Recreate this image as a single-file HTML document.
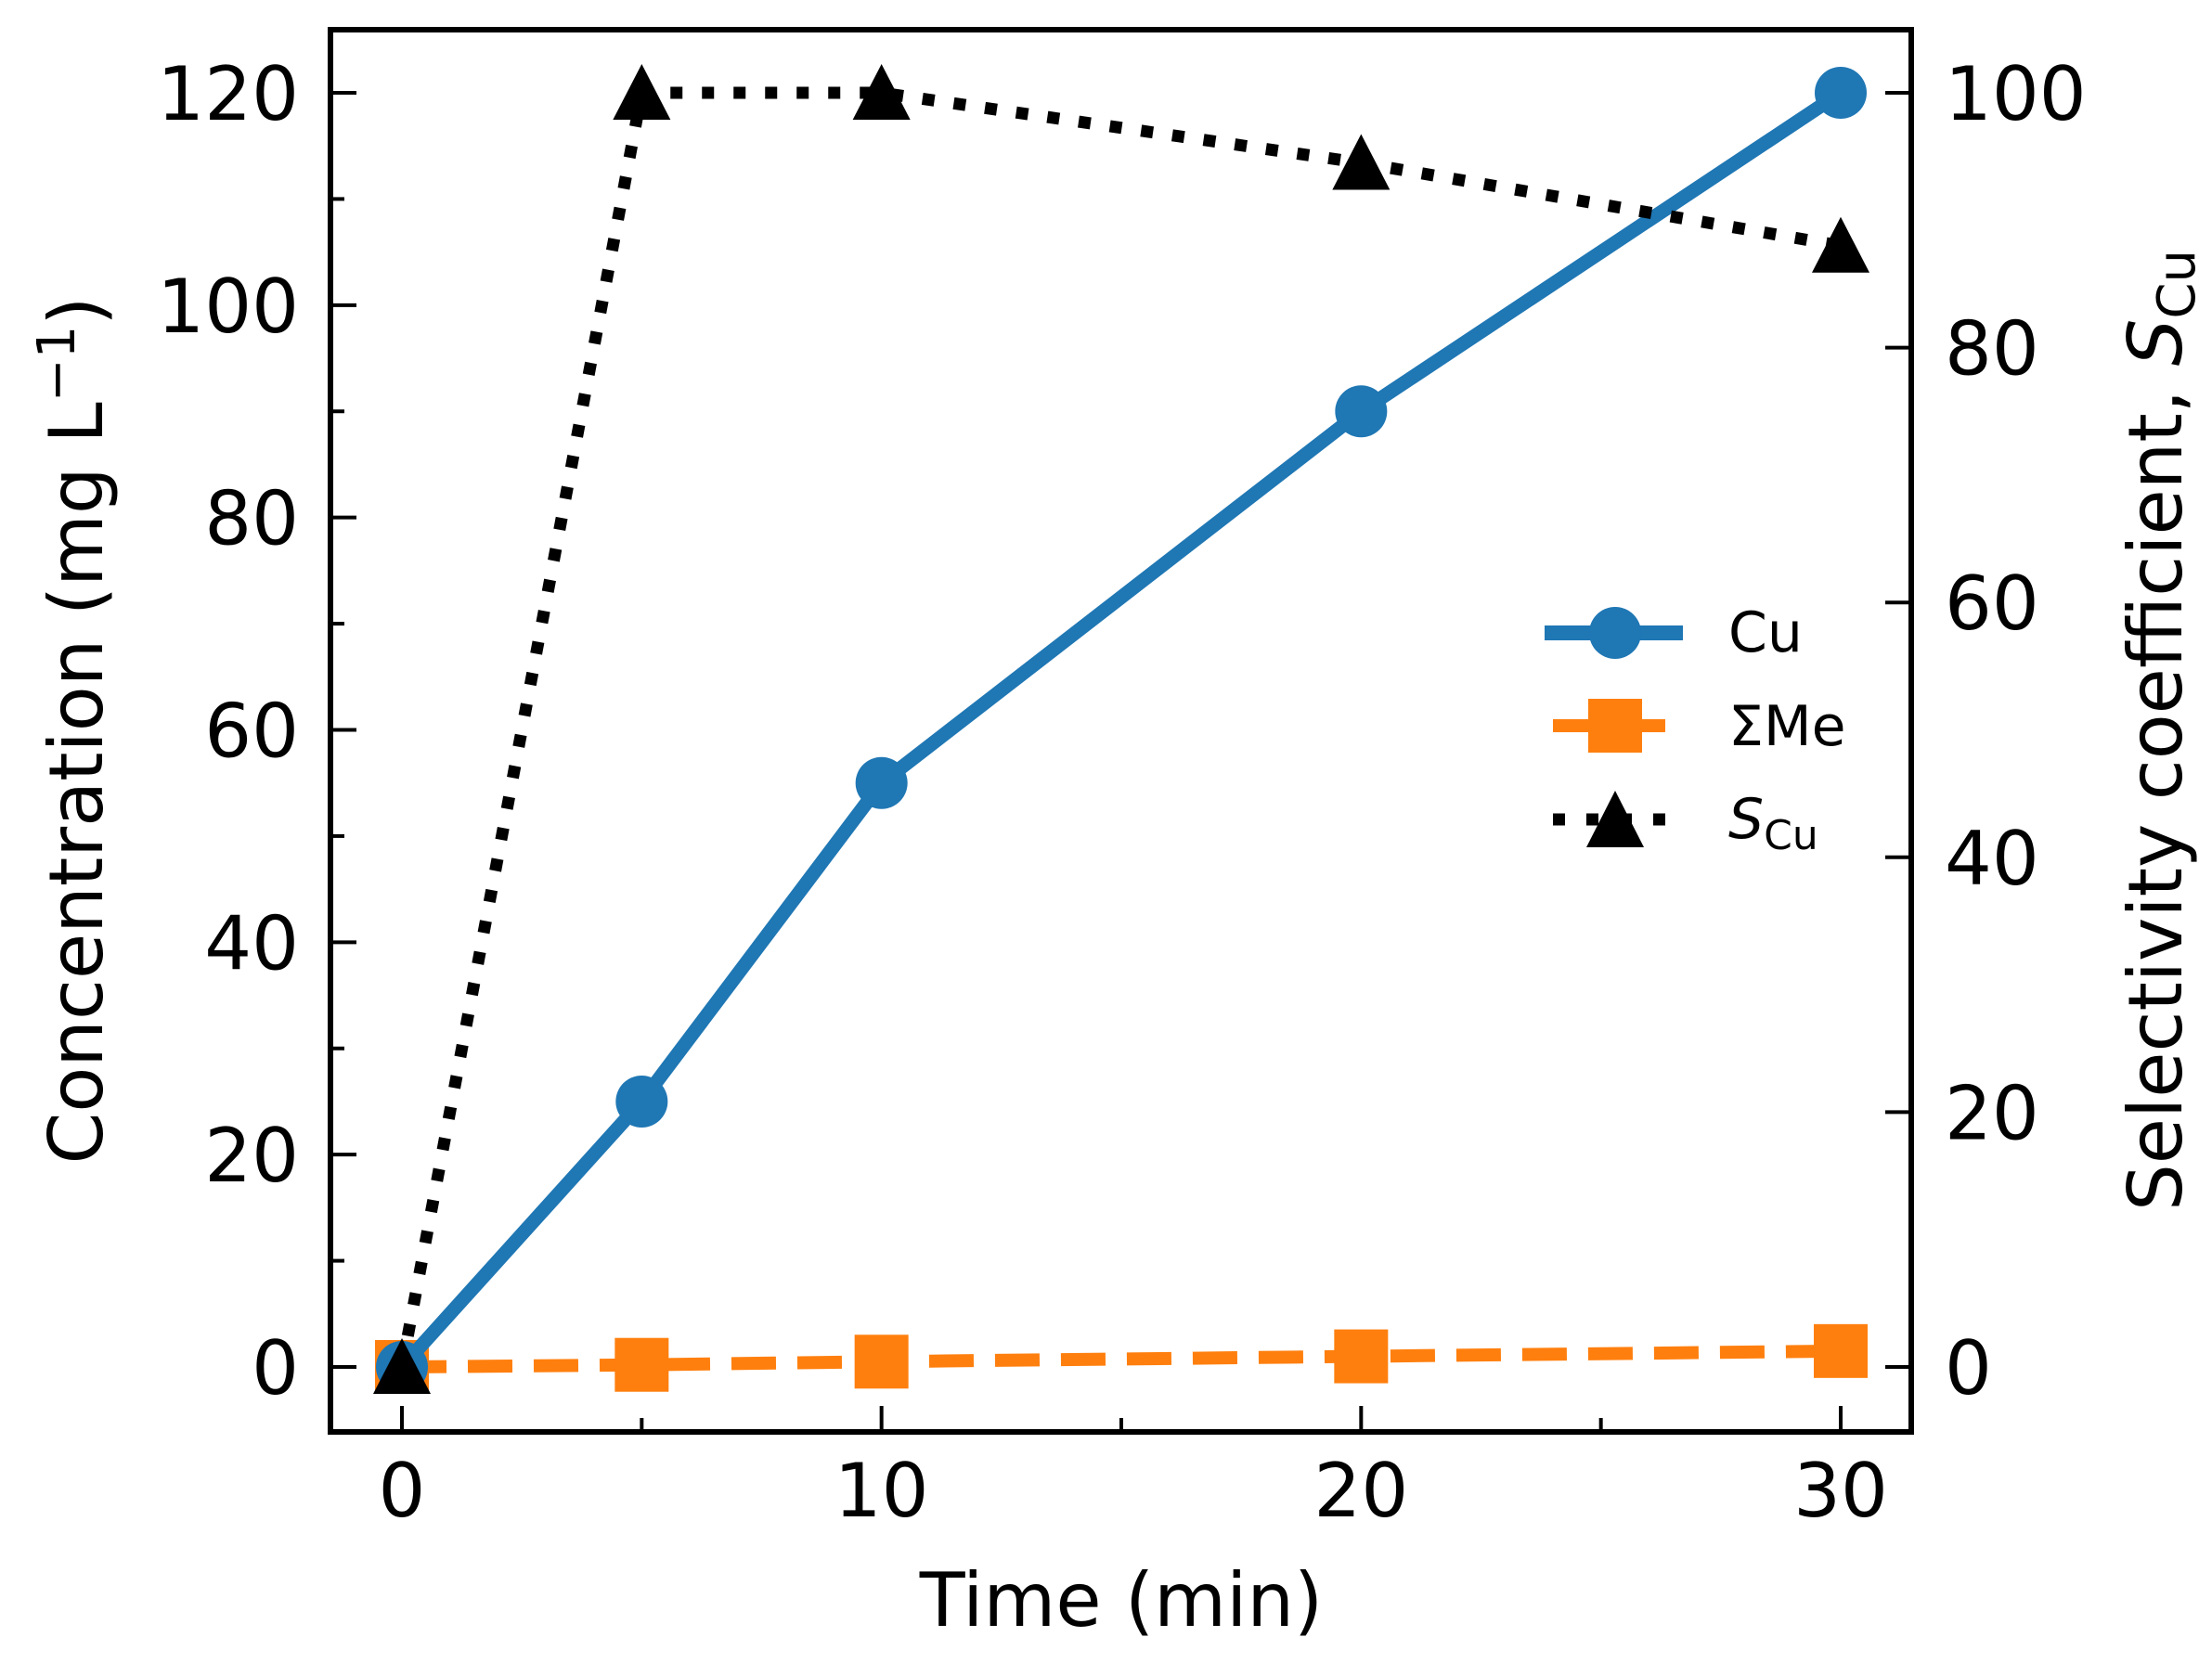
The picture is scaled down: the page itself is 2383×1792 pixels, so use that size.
<!DOCTYPE html>
<html><head><meta charset="utf-8"><style>
html,body{margin:0;padding:0;background:#fff;}
svg{display:block;font-family:"DejaVu Sans","Liberation Sans",sans-serif;}
</style></head><body>
<svg id="chart" width="2383" height="1792" viewBox="0 0 2383 1792" xmlns="http://www.w3.org/2000/svg">
<g id="ticks"></g>
<g id="series"></g>
<rect x="356" y="32" width="1703" height="1511" fill="none" stroke="#000" stroke-width="6"/>
<text x="1208" y="1752" font-size="80" text-anchor="middle">Time (min)</text>
<text transform="translate(110,787) rotate(-90)" font-size="80" text-anchor="middle">Concentration (mg L<tspan dy="-30" font-size="56">−1</tspan><tspan dy="30">)</tspan></text>
<text transform="translate(2350,787) rotate(-90)" font-size="80" text-anchor="middle">Selectivity coefficient, <tspan font-style="italic">S</tspan><tspan font-size="56" dy="14">Cu</tspan></text>
<g>
<g>
<line x1="1664" y1="682" x2="1813" y2="682" stroke="#1f77b4" stroke-width="16"/>
<circle cx="1740" cy="682" r="28" fill="#1f77b4"/>
<text x="1862" y="702" font-size="60">Cu</text></g>
<g>
<line x1="1673" y1="782" x2="1794" y2="782" stroke="#ff7f0e" stroke-width="14"/>
<rect x="1711" y="753" width="58" height="58" fill="#ff7f0e"/>
<text x="1862" y="803" font-size="60">ΣMe</text></g>
<g>
<line x1="1673" y1="883" x2="1794" y2="883" stroke="#000" stroke-width="13" stroke-dasharray="13 23"/>
<polygon points="1740,852 1709,913 1771,913" fill="#000"/>
<text x="1862" y="903" font-size="60"><tspan font-style="italic">S</tspan><tspan font-size="44" dy="12">Cu</tspan></text></g>
</g>
</svg>
<script>
const times=[0,5,10,20,30];
const cuValues=[0,25,55,90,120];
const meValues=[0,0.2,0.5,1.0,1.5];
const sValues=[0,100,100,94.5,88];
const xTicks=[0,10,20,30];
const yTicks=[0,20,40,60,80,100,120];
const y2Ticks=[0,20,40,60,80,100];
const NS="http://www.w3.org/2000/svg";
const X=t=>433+(t/30)*(1983-433);
const Y=v=>1473-(v/120)*(1473-100);
const Y2=v=>1473-(v/100)*(1473-100);
const tg=document.getElementById('ticks'), sg=document.getElementById('series');
function mk(tag,attrs,parent){const e=document.createElementNS(NS,tag);for(const k in attrs)e.setAttribute(k,attrs[k]);parent.appendChild(e);return e;}
for(let t=0;t<=30;t+=5){
  const major=t%10===0;
  const l=mk('line',{x1:X(t),x2:X(t),y1:1543,y2:1543-(major?28:15),stroke:'#000','stroke-width':4},tg);
  
  
}
xTicks.forEach(t=>{const e=mk('text',{x:X(t),y:1634,'font-size':80,'text-anchor':'middle'},tg);e.textContent=t;
  
  });
for(let v=0;v<=120;v+=10){
  const major=v%20===0;
  const l=mk('line',{x1:356,x2:356+(major?28:15),y1:Y(v),y2:Y(v),stroke:'#000','stroke-width':4},tg);
  
  
}
yTicks.forEach(v=>{const e=mk('text',{x:322,y:Y(v)+29,'font-size':80,'text-anchor':'end'},tg);e.textContent=v;
  
  });
y2Ticks.forEach(v=>{
  const l=mk('line',{x1:2059,x2:2031,y1:Y2(v),y2:Y2(v),stroke:'#000','stroke-width':4},tg);
  
  
  const e=mk('text',{x:2095,y:Y2(v)+29,'font-size':80,'text-anchor':'start'},tg);e.textContent=v;
  
  
});
const mePts=times.map((t,i)=>X(t)+','+Y(meValues[i])).join(' ');
const meLine=mk('polyline',{points:mePts,fill:'none',stroke:'#ff7f0e','stroke-width':14,'stroke-dasharray':'48 23'},sg);


times.forEach((t,i)=>{const r=mk('rect',{x:X(t)-29,y:Y(meValues[i])-29,width:58,height:58,fill:'#ff7f0e'},sg);
  
  });
const cuPts=times.map((t,i)=>X(t)+','+Y(cuValues[i])).join(' ');
const cuLine=mk('polyline',{points:cuPts,fill:'none',stroke:'#1f77b4','stroke-width':15,'stroke-linejoin':'round'},sg);


times.forEach((t,i)=>{const c=mk('circle',{cx:X(t),cy:Y(cuValues[i]),r:28,fill:'#1f77b4'},sg);
  
  });
const sPts=times.map((t,i)=>X(t)+','+Y2(sValues[i])).join(' ');
const sLine=mk('polyline',{points:sPts,fill:'none',stroke:'#000','stroke-width':13,'stroke-dasharray':'13 21'},sg);


times.forEach((t,i)=>{const x=X(t),y=Y2(sValues[i]);
  const p=mk('polygon',{points:`${x},${y-31} ${x-31},${y+29} ${x+31},${y+29}`,fill:'#000'},sg);
  
  });
</script>
</body></html>
